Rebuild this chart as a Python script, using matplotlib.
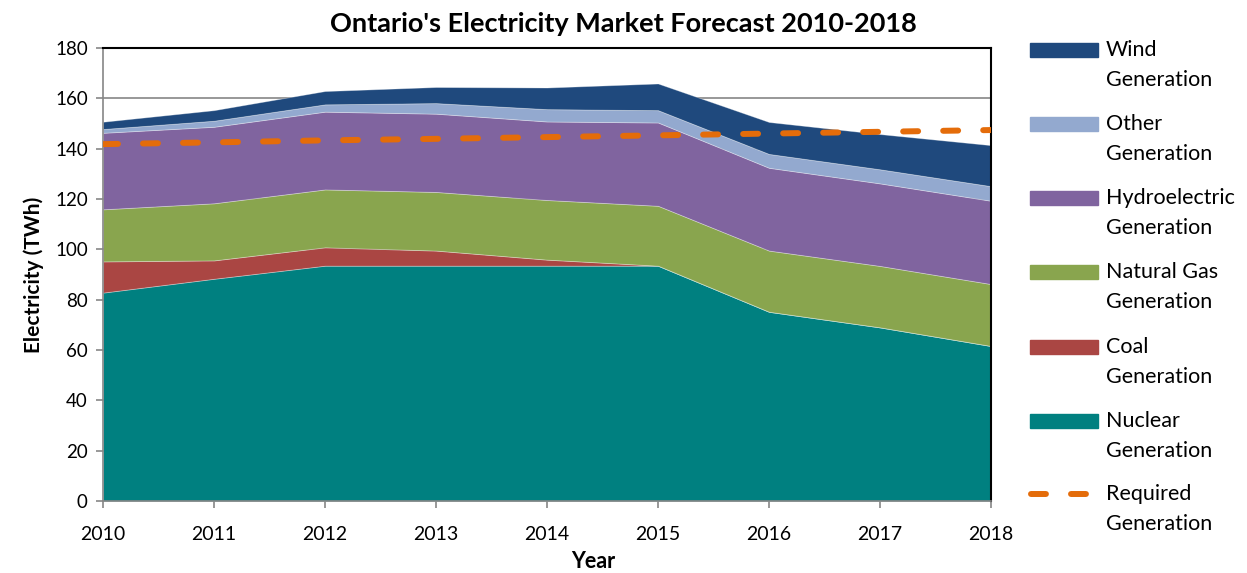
import matplotlib
matplotlib.use("Agg")
import matplotlib.pyplot as plt
from matplotlib.patches import Rectangle
from matplotlib.lines import Line2D

years = [2010, 2011, 2012, 2013, 2014, 2015, 2016, 2017, 2018]
nuclear = [82.8, 88.3, 93.5, 93.5, 93.5, 93.5, 75.2, 69.0, 61.6]
coal = [12.4, 7.3, 7.3, 6.0, 2.4, 0.0, 0.0, 0.0, 0.0]
natural_gas = [20.7, 22.7, 23.0, 23.3, 23.7, 23.8, 24.3, 24.4, 24.6]
hydro = [30.4, 30.4, 30.9, 31.1, 31.2, 33.1, 32.9, 32.8, 33.1]
other = [1.5, 2.4, 2.9, 4.2, 4.9, 4.9, 5.5, 5.6, 5.8]
wind = [2.9, 4.2, 5.3, 6.4, 8.6, 10.6, 12.7, 14.0, 16.3]
required = [141.8, 142.5, 143.3, 143.9, 144.6, 145.3, 146.0, 146.7, 147.4]

series_labels = ["Nuclear\nGeneration", "Coal\nGeneration", "Natural Gas\nGeneration",
                 "Hydroelectric\nGeneration", "Other\nGeneration", "Wind\nGeneration"]
series_colors = ["#008080", "#AA4643", "#89A54E", "#80649F", "#93A9CF", "#1F497D"]
required_label = "Required\nGeneration"
required_color = "#E46C0A"

plt.rcParams['font.family'] = ['Lato', 'DejaVu Sans']

fig = plt.figure(figsize=(12.47, 5.73), dpi=100)
ax = fig.add_axes([103/1247, 1-501/573, (991-103)/1247, (501-48)/573])

ax.stackplot(years, nuclear, coal, natural_gas, hydro, other, wind,
             colors=series_colors, edgecolor=(1, 1, 1, 0.35), linewidth=0.6, zorder=2)
ax.plot(years, required, color=required_color, lw=4.3, dashes=(2.5, 4.2),
        dash_capstyle='round', zorder=3)

ax.set_xlim(2010, 2018)
ax.set_ylim(0, 180)
ax.set_xticks(years)
ax.set_yticks(range(0, 181, 20))
ax.yaxis.grid(True, color="#868686", lw=1.2, zorder=0)
ax.set_axisbelow(True)
for s in ["left", "bottom"]:
    ax.spines[s].set_color("#868686")
    ax.spines[s].set_linewidth(1.2)
for s in ["top", "right"]:
    ax.spines[s].set_color("black")
    ax.spines[s].set_linewidth(1.5)
ax.tick_params(axis='both', direction='out', length=5, color="#868686", width=1.2,
               colors="black")
ax.tick_params(axis='x', pad=13, labelsize=14)
ax.tick_params(axis='y', pad=6, labelsize=13.5)

W, H = 1247, 573
fig.text(0.5, 1-24/H, "Ontario's Electricity Market Forecast 2010-2018", fontsize=19.5,
         fontweight='bold', ha='center', va='center')
fig.text(593/W, 1-562/H, "Year", fontsize=15.5, fontweight='bold', ha='center', va='center')
ax.set_ylabel("Electricity (TWh)", fontsize=15, fontweight='bold', labelpad=8)

# manual legend (top to bottom: reverse stack order, then required)
entry_y = [50, 124, 198, 272, 347, 421]
for i, (lab, col) in enumerate(zip(series_labels[::-1], series_colors[::-1])):
    yc = entry_y[i]
    fig.patches.append(Rectangle((1030/W, 1-(yc+7)/H), 68/W, 14/H,
                                 transform=fig.transFigure, color=col, figure=fig))
    fig.text(1106/W, 1-(yc-10)/H, lab, fontsize=15.5, va='top', ha='left',
             linespacing=1.6)
yc = 494
fig.lines.append(Line2D([1031/W, 1090/W], [1-yc/H, 1-yc/H], transform=fig.transFigure,
                        color=required_color, lw=4.3, dashes=(2.5, 4.2),
                        dash_capstyle='round', figure=fig))
fig.text(1106/W, 1-(yc-10)/H, required_label, fontsize=15.5, va='top', ha='left',
         linespacing=1.6)

fig.savefig("out.png", dpi=100)
